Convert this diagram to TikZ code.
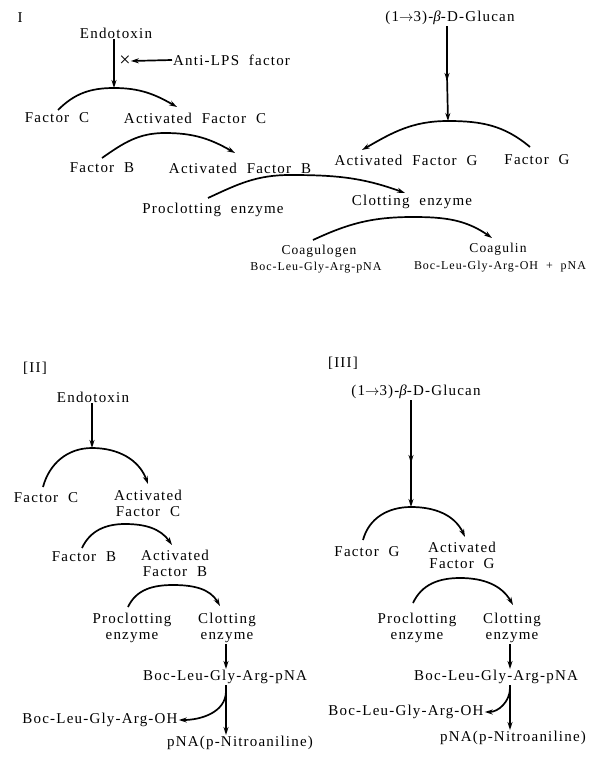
\documentclass[tikz,border=0pt]{standalone}
\usepackage{fontspec}
\setmainfont[LetterSpace=8,WordSpace=2]{Liberation Serif}
\usetikzlibrary{arrows.meta}

\tikzset{
  lbl/.style={inner sep=1pt, font=\fontsize{15}{16}\selectfont, align=center},
  small/.style={lbl, font=\fontsize{12}{13}\selectfont},
  mid/.style={lbl, font=\fontsize{13.5}{14}\selectfont},
  react/.style={-{Stealth[length=8pt,width=5pt]}, line width=1.7pt},
}

\begin{document}
\begin{tikzpicture}[x=1pt, y=-1pt]
        \useasboundingbox (0,0) rectangle (592,757);

        % Panel I: Define Nodes
        \node[lbl] (p1) at (20,18) {I};
        \node[lbl] (endo1) at (116,33) {Endotoxin};
        \node[lbl, inner sep=0pt] (x1) at (125,61) {\fontsize{20}{20}\selectfont ×};
        \node[lbl, anchor=west] (anti) at (172,60) {Anti-LPS factor};
        \node[lbl] (fc1) at (57,118) {Factor C};
        \node[lbl] (afc1) at (195,118) {Activated Factor C};
        \node[lbl] (fb1) at (102,168) {Factor B};
        \node[lbl] (afb1) at (240,168) {Activated Factor B};
        \node[lbl] (pro1) at (213,210) {Proclotting enzyme};
        \node[lbl] (clot1) at (412,202) {Clotting enzyme};
        \node[mid] (coag1) at (319,251) {Coagulogen};
        \node[small] (sub1) at (316,268) {Boc-Leu-Gly-Arg-pNA};
        \node[mid] (coagn1) at (498,249) {Coagulin};
        \node[small] (prod1) at (500,267) {Boc-Leu-Gly-Arg-OH + pNA};
        \node[lbl] (glu1) at (450,18) {(1$\rightarrow$3)-{\itshape β}-D-Glucan};
        \node[lbl] (afg1) at (406,160) {Activated Factor G};
        \node[lbl] (fg1) at (537,160) {Factor G};
        \coordinate (t1) at (114,88);
        \coordinate (t2) at (165,133);
        \coordinate (t3) at (290,175);
        \coordinate (t4) at (413,217);
        \coordinate (m1) at (447,78);
        \coordinate (t5) at (448,121);

        % Panel I: Draw Edges
        \draw[react] (endo1.south -| t1) -- (t1);
        \draw[react] (anti.west) -- (x1.east);
        \draw[react] (58,110) to[out=45,in=180] (t1) to[out=0,in=150] (177,107);
        \draw[react] (102,158) to[out=35,in=180] (t2) to[out=0,in=150] (235,153);
        \draw[react] (208,198) to[out=25,in=180] (t3) to[out=0,in=160] (405,193);
        \draw[react] (313,240) to[out=25,in=180] (t4) to[out=0,in=145] (492,238);
        \draw[react] (glu1.south -| m1) -- ([yshift=-3pt]m1);
        \draw[react] ([yshift=2pt]m1) -- (t5);
        \draw[react] (530,147) to[out=140,in=0] (t5) to[out=180,in=30] (362,150);

        % Panel II: Define Nodes
        \node[lbl] (p2) at (35,368) {[II]};
        \node[lbl] (endo2) at (93,397) {Endotoxin};
        \node[lbl] (fc2) at (46,498) {Factor C};
        \node[lbl] (afc2) at (148,503) {Activated\\Factor C};
        \node[lbl] (fb2) at (84,557) {Factor B};
        \node[lbl] (afb2) at (175,563) {Activated\\Factor B};
        \node[lbl] (pro2) at (132,628) {Proclotting\\enzyme};
        \node[lbl] (clot2) at (227,628) {Clotting\\enzyme};
        \node[lbl] (sub2) at (225,677) {Boc-Leu-Gly-Arg-pNA};
        \node[lbl] (oh2) at (100,720) {Boc-Leu-Gly-Arg-OH};
        \node[lbl] (pna2) at (240,743) {pNA(p-Nitroaniline)};
        \coordinate (u1) at (92,448);
        \coordinate (u2) at (125,524);
        \coordinate (u3) at (173,585);
        \coordinate (b2) at (226,691);

        % Panel II: Draw Edges
        \draw[react] (endo2.south -| u1) -- (u1);
        \draw[react] (43,487) to[out=75,in=180] (u1) to[out=0,in=110] (148,484);
        \draw[react] (82,548) to[out=65,in=180] (u2) to[out=0,in=125] (172,545);
        \draw[react] (128,607) to[out=65,in=180] (u3) to[out=0,in=120] (220,606);
        \draw[react] (clot2.south -| b2) -- (sub2.north -| b2);
        \draw[react] (sub2.south -| b2) -- (pna2.north -| b2);
        \draw[react] (b2) to[out=-90,in=0] (oh2.east);

        % Panel III: Define Nodes
        \node[lbl] (p3) at (343,363) {[III]};
        \node[lbl] (glu3) at (416,392) {(1$\rightarrow$3)-{\itshape β}-D-Glucan};
        \node[lbl] (fg3) at (367,552) {Factor G};
        \node[lbl] (afg3) at (462,555) {Activated\\Factor G};
        \node[lbl] (pro3) at (417,628) {Proclotting\\enzyme};
        \node[lbl] (clot3) at (512,628) {Clotting\\enzyme};
        \node[lbl] (sub3) at (496,677) {Boc-Leu-Gly-Arg-pNA};
        \node[lbl] (oh3) at (406,712) {Boc-Leu-Gly-Arg-OH};
        \node[lbl] (pna3) at (513,738) {pNA(p-Nitroaniline)};
        \coordinate (m3) at (411,460);
        \coordinate (v1) at (411,507);
        \coordinate (v2) at (460,578);
        \coordinate (b3) at (510,688);

        % Panel III: Draw Edges
        \draw[react] (glu3.south -| m3) -- ([yshift=-3pt]m3);
        \draw[react] ([yshift=2pt]m3) -- (v1);
        \draw[react] (363,540) to[out=75,in=180] (v1) to[out=0,in=115] (465,537);
        \draw[react] (413,603) to[out=65,in=180] (v2) to[out=0,in=120] (513,605);
        \draw[react] (clot3.south -| b3) -- (sub3.north -| b3);
        \draw[react] (sub3.south -| b3) -- (pna3.north -| b3);
        \draw[react] (b3) to[out=-90,in=0] (oh3.east);
\end{tikzpicture}
\end{document}
